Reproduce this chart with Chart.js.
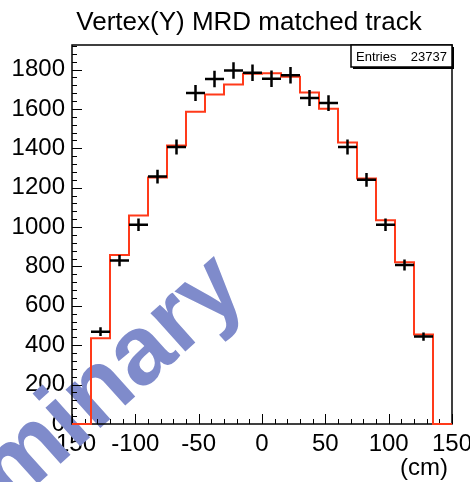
<!DOCTYPE html>
<html>
<head>
<meta charset="utf-8">
<script src="https://cdn.jsdelivr.net/npm/chart.js@4.4.0/dist/chart.umd.min.js"></script>
<style>
html, body { margin: 0; padding: 0; background: #fff; }
canvas { display: block; }
</style>
</head>
<body>
<canvas id="myChart" width="470" height="482"></canvas>
<script>
"use strict"
const FONT = '"Liberation Sans", Arial, Helvetica, sans-serif'

// Texte
const titleText = "Vertex(Y) MRD matched track"
const unitText = "(cm)"
const watermarkText = "Preliminary"
const entries = 23737

// Bins (15 cm breit), untere Kanten + obere Kante
const binLow = [-150, -135, -120, -105, -90, -75, -60, -45, -30, -15, 0, 15, 30, 45, 60, 75, 90, 105, 120, 135]
const binTop = 150
const binCenters = [-142.5, -127.5, -112.5, -97.5, -82.5, -67.5, -52.5, -37.5, -22.5, -7.5, 7.5, 22.5, 37.5, 52.5, 67.5, 82.5, 97.5, 112.5, 127.5, 142.5]
const binHalfWidth = 7.5

// Simulation (rote Linie) und Daten (schwarze Kreuze)
const mcCounts = [0, 436, 858, 1059, 1252, 1415, 1586, 1673, 1725, 1779, 1781, 1764, 1684, 1601, 1430, 1247, 1035, 822, 454, 0]
const dataCounts = [0, 469, 830, 1012, 1257, 1407, 1681, 1752, 1796, 1784, 1754, 1771, 1656, 1630, 1407, 1240, 1012, 808, 444, 0]
const dataErrors = [0, 22, 29, 32, 35, 38, 41, 42, 42, 42, 42, 42, 41, 40, 38, 35, 32, 28, 21, 0]

// Achsen
const xTicks = [-150, -100, -50, 0, 50, 100, 150]
const yTicks = [0, 200, 400, 600, 800, 1000, 1200, 1400, 1600, 1800]
const xMin = -150, xMax = 150
const yMin = 0, yMax = 1925

// Tabellen für Chart.js
const mcLine = binLow.map((x, i) => ({ x: x, y: mcCounts[i] }))
mcLine.push({ x: binTop, y: mcCounts[mcCounts.length - 1] })
const dataPoints = []
const dataErr = []
for (let i = 0; i < binCenters.length; i++) {
    if (dataCounts[i] > 0) {
        dataPoints.push({ x: binCenters[i], y: dataCounts[i] })
        dataErr.push(dataErrors[i])
    }
}

// ROOT-Stil: Wasserzeichen, Rahmen, Ticks innen, Fehlerbalken, Statistikbox
const rootStyle = {
    id: 'rootStyle',
    beforeDatasetsDraw(chart) {
        const { ctx, chartArea: a, scales } = chart
        const sx = scales.x, sy = scales.y

        // Wasserzeichen
        ctx.save()
        ctx.translate(249, 294)
        ctx.rotate(-42 * Math.PI / 180)
        ctx.font = 'bold 98px ' + FONT
        ctx.fillStyle = '#7f8bcb'
        ctx.textAlign = 'right'
        ctx.textBaseline = 'alphabetic'
        ctx.fillText(watermarkText, 0, 0)
        ctx.restore()

        // Rahmen
        ctx.save()
        ctx.strokeStyle = '#000'
        ctx.lineWidth = 1.5
        ctx.strokeRect(a.left, a.top, a.right - a.left, a.bottom - a.top)

        // Ticks
        ctx.lineWidth = 1
        ctx.beginPath()
        for (let v = xMin; v <= xMax; v += 10) {
            const px = Math.round(sx.getPixelForValue(v)) + 0.5
            const len = (v % 50 === 0) ? 10 : 5
            ctx.moveTo(px, a.bottom)
            ctx.lineTo(px, a.bottom - len)
        }
        for (let v = yMin; v <= yMax; v += 40) {
            const py = Math.round(sy.getPixelForValue(v)) + 0.5
            const len = (v % 200 === 0) ? 10 : 5
            ctx.moveTo(a.left, py)
            ctx.lineTo(a.left + len, py)
        }
        ctx.stroke()
        ctx.restore()
    },
    afterDatasetsDraw(chart) {
        const { ctx, scales } = chart
        const sx = scales.x, sy = scales.y
        const meta = chart.getDatasetMeta(1)
        ctx.save()
        ctx.strokeStyle = '#000'
        ctx.lineWidth = 2.5
        ctx.beginPath()
        meta.data.forEach((pt, i) => {
            const d = dataPoints[i]
            const x0 = sx.getPixelForValue(d.x - binHalfWidth)
            const x1 = sx.getPixelForValue(d.x + binHalfWidth)
            const y0 = sy.getPixelForValue(d.y - dataErr[i])
            const y1 = sy.getPixelForValue(d.y + dataErr[i])
            ctx.moveTo(x0, pt.y)
            ctx.lineTo(x1, pt.y)
            ctx.moveTo(pt.x, y0)
            ctx.lineTo(pt.x, y1)
        })
        ctx.stroke()
        ctx.restore()
    },
    afterDraw(chart) {
        const { ctx, chartArea: a } = chart
        ctx.save()
        // Titel
        ctx.fillStyle = '#000'
        ctx.font = '26px ' + FONT
        ctx.textAlign = 'center'
        ctx.textBaseline = 'alphabetic'
        ctx.fillText(titleText, 249, 30)
        // Einheit
        ctx.font = '24px ' + FONT
        ctx.textAlign = 'right'
        ctx.fillText(unitText, 448, 475)

        // Statistikbox
        const bx = 351, by = a.top, bw = a.right - 351, bh = 22
        ctx.fillStyle = '#000'
        ctx.fillRect(bx + 2, by + 2, bw, bh)
        ctx.fillStyle = '#fff'
        ctx.fillRect(bx, by, bw, bh)
        ctx.strokeStyle = '#000'
        ctx.lineWidth = 1.5
        ctx.strokeRect(bx, by, bw, bh)
        ctx.fillStyle = '#000'
        ctx.font = '13px ' + FONT
        ctx.textBaseline = 'middle'
        ctx.textAlign = 'left'
        ctx.fillText('Entries', bx + 5, by + bh / 2 + 1)
        ctx.textAlign = 'right'
        ctx.fillText(String(entries), bx + bw - 5, by + bh / 2 + 1)
        ctx.restore()
    }
}

const config = {
    type: 'line',
    data: {
        datasets: [{
            label: 'MC',
            data: mcLine,
            stepped: true,
            borderColor: '#ff3a1a',
            borderWidth: 2,
            pointRadius: 0,
            fill: false,
            clip: false
        }, {
            label: 'Data',
            data: dataPoints,
            showLine: false,
            pointRadius: 0,
            borderColor: '#000',
            clip: false
        }]
    },
    options: {
        responsive: false,
        animation: false,
        events: [],
        layout: { padding: { top: 45, right: 18, left: 0, bottom: 0 } },
        plugins: {
            legend: { display: false },
            tooltip: { enabled: false },
            title: { display: false }
        },
        scales: {
            x: {
                type: 'linear',
                min: xMin,
                max: xMax,
                grid: { display: false, drawTicks: false },
                border: { display: false },
                ticks: {
                    font: { family: FONT, size: 24 },
                    color: '#000',
                    padding: 6,
                    maxRotation: 0,
                    autoSkip: false,
                    callback: (v) => String(v)
                },
                afterBuildTicks: (scale) => { scale.ticks = xTicks.map(v => ({ value: v })) },
                afterFit: (scale) => { scale.height = 58; scale.paddingLeft = 0; scale.paddingRight = 0 }
            },
            y: {
                type: 'linear',
                min: yMin,
                max: yMax,
                grid: { display: false, drawTicks: false },
                border: { display: false },
                ticks: {
                    font: { family: FONT, size: 24 },
                    color: '#000',
                    padding: 7,
                    autoSkip: false,
                    callback: (v) => String(v)
                },
                afterBuildTicks: (scale) => { scale.ticks = yTicks.map(v => ({ value: v })) },
                afterFit: (scale) => { scale.width = 72; scale.paddingTop = 0; scale.paddingBottom = 0 }
            }
        }
    },
    plugins: [rootStyle]
}

new Chart(document.getElementById('myChart'), config)
</script>
</body>
</html>
